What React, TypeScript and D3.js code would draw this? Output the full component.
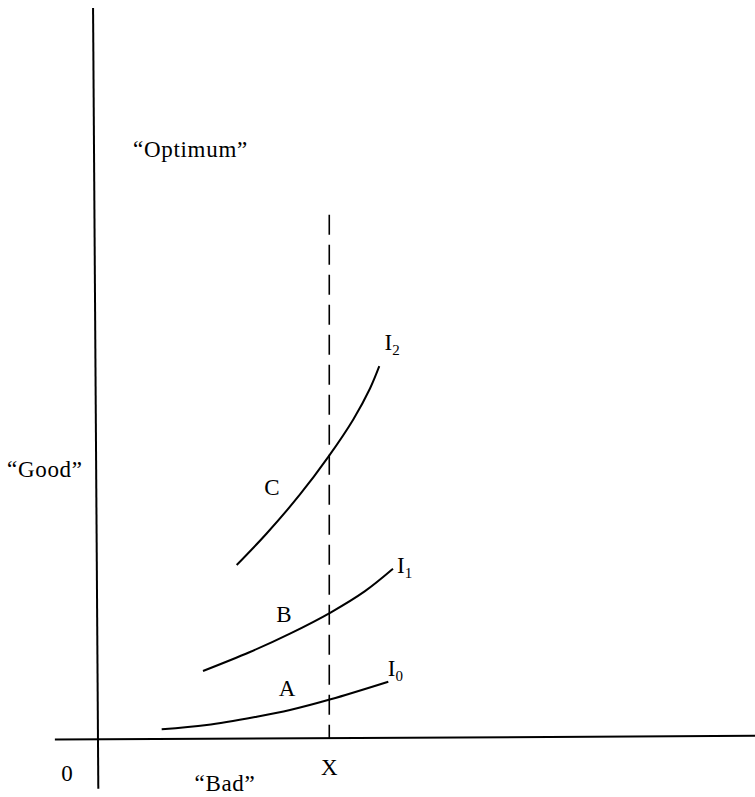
import React from "react";
import * as d3 from "d3";

// Abstract units: x 0..100 (bad dimension), y 0..100 (good dimension)
const curveNames = ["I0", "I1", "I2"];
const i0X = [9.83, 16.67, 24.27, 29.33, 35.51, 44.27];
const i0Y = [1.6, 2.18, 3.32, 4.23, 5.69, 8.09];
const i1X = [16.11, 23.25, 29.33, 35.56, 40.73, 44.98];
const i1Y = [9.55, 12.14, 14.65, 17.56, 20.44, 23.49];
const i2X = [21.23, 25.78, 30.85, 35.15, 38.95, 41.49, 42.9];
const i2Y = [24.01, 28.31, 33.63, 38.76, 43.87, 48.09, 51.13];
const pointLabels = ["A", "B", "C"];
const pointLabelX = [28.9, 28.4, 26.6];
const pointLabelY = [6.8, 17.0, 34.3];
const curveLabelX = [44.2, 45.6, 43.7];
const curveLabelY = [8.9, 22.9, 53.4];
const dashedX = 35.3;
const dashedTop = 71.8;
const axisLabels = ["0", "X", "“Bad”", "“Good”", "“Optimum”"];

export default function App() {
  const W = 755;
  const H = 797;
  const x = d3.scaleLinear().domain([0, 100]).range([97, 755]);
  const y = d3.scaleLinear().domain([0, 100]).range([741, 8]);
  const line = d3
    .line<[number, number]>()
    .x((d) => x(d[0]))
    .y((d) => y(d[1]))
    .curve(d3.curveCatmullRom.alpha(0.5));
  const series = [
    i0X.map((v, i) => [v, i0Y[i]] as [number, number]),
    i1X.map((v, i) => [v, i1Y[i]] as [number, number]),
    i2X.map((v, i) => [v, i2Y[i]] as [number, number]),
  ];
  const font = "'Liberation Serif', 'Times New Roman', serif";
  const fs = 23;
  const ls = 0.7;
  return (
    <svg
      width={W}
      height={H}
      style={{ position: "absolute", left: 0, top: 0, background: "#fff" }}
      fontFamily={font}
    >
      {/* axes */}
      <line x1={x(-0.6)} y1={y(100)} x2={x(0.2)} y2={y(-6.5)} stroke="#000" strokeWidth={2} />
      <line x1={x(-6.4)} y1={y(0.2)} x2={x(100)} y2={y(0.7)} stroke="#000" strokeWidth={2} />
      {/* dashed vertical */}
      <line
        x1={x(dashedX)}
        y1={y(dashedTop)}
        x2={x(dashedX)}
        y2={y(0.3)}
        stroke="#000"
        strokeWidth={1.6}
        strokeDasharray="20 10"
      />
      {series.map((s, i) => (
        <path key={curveNames[i]} d={line(s) || ""} fill="none" stroke="#000" strokeWidth={2} />
      ))}
      {curveNames.map((n, i) => (
        <text key={n} x={x(curveLabelX[i])} y={y(curveLabelY[i])} fontSize={fs} fill="#000">
          I
          <tspan fontSize={15} dy={5}>
            {n.slice(1)}
          </tspan>
        </text>
      ))}
      {pointLabels.map((p, i) => (
        <text
          key={p}
          x={x(pointLabelX[i])}
          y={y(pointLabelY[i])}
          fontSize={fs}
          textAnchor="middle"
          dominantBaseline="middle"
          fill="#000"
        >
          {p}
        </text>
      ))}
      <text x={67} y={781} fontSize={fs} textAnchor="middle" fill="#000">
        {axisLabels[0]}
      </text>
      <text x={x(dashedX)} y={775} fontSize={fs} textAnchor="middle" fill="#000">
        {axisLabels[1]}
      </text>
      <text x={225} y={791} fontSize={fs} letterSpacing={ls} textAnchor="middle" fill="#000">
        {axisLabels[2]}
      </text>
      <text x={7} y={477} fontSize={fs} letterSpacing={ls} fill="#000">
        {axisLabels[3]}
      </text>
      <text x={133} y={157} fontSize={fs} letterSpacing={ls} fill="#000">
        {axisLabels[4]}
      </text>
    </svg>
  );
}
